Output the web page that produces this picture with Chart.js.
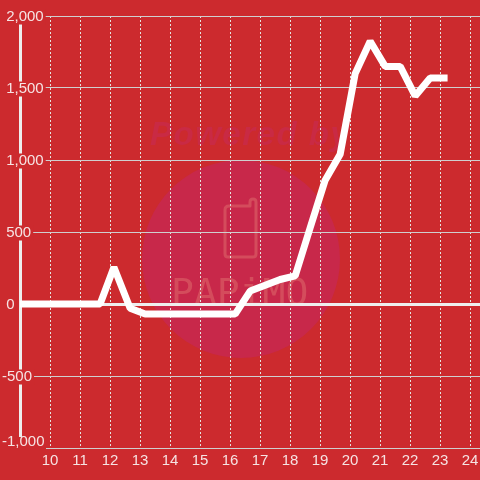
<!DOCTYPE html>
<html>
<head>
<meta charset="utf-8">
<style>
	html, body { margin: 0; padding: 0; background: #cc2a2e; }
	canvas { display: block; }
</style>
<script src="https://cdn.jsdelivr.net/npm/chart.js@4"></script>
</head>
<body>
<canvas id="chart" width="480" height="480"></canvas>
<script>
const hours = [8.67, 11.67, 12.13, 12.67, 13.17, 16.17, 16.67, 17.17, 17.67, 18.17, 18.67, 19.17, 19.67, 20.17, 20.67, 21.17, 21.67, 22.17, 22.67, 23.25];
const values = [0, 0, 255, -30, -70, -70, 90, 130, 170, 195, 530, 860, 1040, 1600, 1825, 1650, 1650, 1445, 1570, 1570];
const yLabelled = [-1000, -500, 0, 500, 1000, 1500, 2000];
const xLabelled = [10, 11, 12, 13, 14, 15, 16, 17, 18, 19, 20, 21, 22, 23, 24];

const labelColor = "#f6e3e3";
const background = "#cc2a2e";

// faded logo behind the plot
const watermark = {
	id: "watermark",
	beforeDraw(chart) {
		const ctx = chart.ctx;
		ctx.save();
		ctx.fillStyle = background;
		ctx.fillRect(0, 0, 480, 480);

		ctx.fillStyle = "#c8284a";
		ctx.beginPath();
		ctx.arc(241, 259, 99, 0, Math.PI * 2);
		ctx.fill();

		ctx.fillStyle = "#c92a44";
		ctx.font = "italic bold 33px 'Liberation Sans'";
		ctx.letterSpacing = "1.5px";
		ctx.textAlign = "left";
		ctx.fillText("Powered by", 150, 145);

		ctx.strokeStyle = "#d44c5c";
		ctx.lineWidth = 3;
		ctx.lineJoin = "round";
		ctx.beginPath();
		ctx.moveTo(229, 206);
		ctx.lineTo(250, 206);
		ctx.lineTo(250, 202);
		ctx.quadraticCurveTo(250, 199, 253, 199);
		ctx.quadraticCurveTo(256, 199, 256, 202);
		ctx.lineTo(256, 254);
		ctx.quadraticCurveTo(256, 257, 253, 257);
		ctx.lineTo(228, 257);
		ctx.quadraticCurveTo(225, 257, 225, 254);
		ctx.lineTo(225, 210);
		ctx.quadraticCurveTo(225, 206, 229, 206);
		ctx.stroke();

		ctx.fillStyle = "#d44c5c";
		ctx.font = "38px 'DejaVu Sans Mono'";
		ctx.letterSpacing = "0px";
		ctx.fillText("PAPiMO", 171, 305);
		ctx.restore();
	},
	// the bottom label sits above its grid line, so clear the axis behind it
	beforeDatasetsDraw(chart) {
		const ctx = chart.ctx;
		ctx.save();
		ctx.fillStyle = background;
		ctx.fillRect(0, 437, 46, 13);
		ctx.restore();
	}
};

new Chart("chart", {
	type: "line",
	plugins: [watermark],
	data: {
		datasets: [{
			data: hours.map((h, i) => ({ x: h, y: values[i] })),
			borderColor: "#ffffff",
			borderWidth: 7,
			borderJoinStyle: "bevel",
			pointRadius: 0,
			tension: 0
		}]
	},
	options: {
		responsive: false,
		animation: false,
		layout: { padding: { left: 2, top: 16, right: 0, bottom: 0 } },
		plugins: { legend: { display: false }, tooltip: { enabled: false } },
		scales: {
			x: {
				type: "linear",
				min: 9,
				max: 24.33,
				afterFit(scale) {
					scale.height = 32;
					scale.paddingLeft = 0;
					scale.paddingRight = 0;
				},
				grid: { color: "#e4e4e0", lineWidth: 1, drawTicks: false },
				border: { display: false, dash: [2, 2] },
				ticks: {
					stepSize: 1,
					includeBounds: false,
					autoSkip: false,
					maxRotation: 0,
					padding: 4,
					z: 1,
					color: labelColor,
					font: { family: "'Liberation Sans'", size: 15 },
					callback: (v) => xLabelled.includes(v) ? String(v) : null
				}
			},
			y: {
				min: -1000,
				max: 2000,
				afterFit(scale) { scale.width = 18; },
				grid: {
					drawTicks: false,
					color: (c) => c.tick.value === 0 ? "#eeeeee" : "#cfcfcf",
					lineWidth: (c) => c.tick.value === 0 ? 3 : 1
				},
				border: { display: true, color: "#eeeeee", width: 3 },
				ticks: {
					stepSize: 250,
					autoSkip: false,
					mirror: true,
					padding: -18,
					labelOffset: 1,
					z: 1,
					color: labelColor,
					font: { family: "'Liberation Sans'", size: 15, lineHeight: 1 },
					showLabelBackdrop: (c) => c.tick.value !== -1000,
					backdropColor: background,
					backdropPadding: { left: 2, right: 2, top: 0, bottom: 0 },
					callback: function(v) {
						if (!yLabelled.includes(v)) return null;
						const text = v.toLocaleString("en-US");
						if (v === -1000) return [text, ""];
						return v < 0 ? text : " " + text;
					}
				}
			}
		}
	}
});
</script>
</body>
</html>
